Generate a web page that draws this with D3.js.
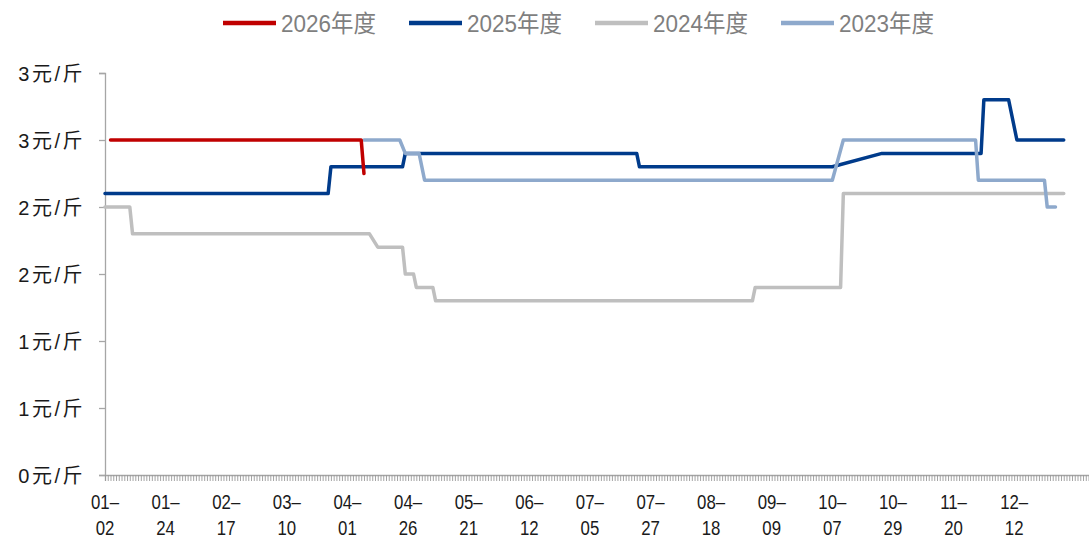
<!DOCTYPE html>
<html>
<head>
<meta charset="utf-8">
<script src="https://cdn.jsdelivr.net/npm/d3@7"></script>
<style>
  html, body { margin: 0; padding: 0; background: #ffffff; }
  svg { display: block; }
</style>
</head>
<body>
<svg id="chart" width="1089" height="539"></svg>
<script>
// ---------------- data ----------------
// x axis: daily categories (day index), a label every 22 categories
const xLabels = ["01-02","01-24","02-17","03-10","04-01","04-26","05-21","06-12",
                 "07-05","07-27","08-18","09-09","10-07","10-29","11-20","12-12"];
const labelEvery = 22;
const nCategories = 359;

const yTicks = [0, 0.5, 1, 1.5, 2, 2.5, 3];
const yTickLabels = ["0元/斤","1元/斤","1元/斤","2元/斤","2元/斤","3元/斤","3元/斤"];

const seriesNames = ["2026年度","2025年度","2024年度","2023年度"];
const seriesColors = ["#C00000","#003B8B","#BFBFBF","#8EA9CC"];

// price change points: [day index, price 元/斤]
const s2026 = [[2,2.5],[93,2.5],[94,2.25]];
const s2025 = [[0,2.1],[81,2.1],[82,2.3],[108,2.3],[109,2.4],[193,2.4],[194,2.3],
               [264,2.3],[282,2.4],[318,2.4],[319,2.8],[328,2.8],[331,2.5],[348,2.5]];
const s2024 = [[0,2.0],[9,2.0],[10,1.8],[96,1.8],[99,1.7],[108,1.7],[109,1.5],[112,1.5],
               [113,1.4],[119,1.4],[120,1.3],[235,1.3],[236,1.4],[267,1.4],[268,2.1],[348,2.1]];
const s2023 = [[94,2.5],[107,2.5],[109,2.4],[114,2.4],[116,2.2],[264,2.2],[268,2.5],
               [316,2.5],[317,2.2],[341,2.2],[342,2.0],[345,2.0]];

// ---------------- chart ----------------
const svg = d3.select("#chart");
const plotLeft = 105, plotTop = 73, plotBottom = 475;
const step = 2.755;

const x = d3.scaleLinear().domain([0, nCategories - 1]).range([plotLeft, plotLeft + (nCategories - 1) * step]);
const y = d3.scaleLinear().domain([0, 3]).range([plotBottom, plotTop]);

const axisColor = "#A6A6A6";

// y axis
const yAxis = svg.append("g").attr("transform", `translate(${plotLeft},0)`)
  .call(d3.axisLeft(y).tickValues(yTicks).tickSize(6).tickFormat((d, i) => yTickLabels[i]));
yAxis.select(".domain").attr("stroke", axisColor).attr("stroke-width", 1.3);
yAxis.selectAll(".tick line").attr("stroke", axisColor).attr("stroke-width", 1.3);
yAxis.selectAll(".tick text")
  .attr("x", -20)
  .attr("dy", "0.36em")
  .attr("fill", "#1a1a1a")
  .style("font-family", "'Liberation Sans', 'Noto Sans CJK SC', sans-serif")
  .style("font-size", "20px")
  .style("letter-spacing", "2.5px");

// x axis (category ticks)
const xAxis = svg.append("g").attr("transform", `translate(0,${plotBottom})`)
  .call(d3.axisBottom(x).tickValues(d3.range(nCategories)).tickSize(6).tickFormat(""));
xAxis.select(".domain").attr("stroke", axisColor).attr("stroke-width", 1.3);
xAxis.selectAll(".tick line").attr("stroke", "#9a9a9a").attr("stroke-width", 0.9);

// x labels (two lines)
const labelG = svg.append("g");
xLabels.forEach((lab, k) => {
  const cx = x(k * labelEvery);
  const parts = lab.split("-");
  const t = labelG.append("g").attr("transform", `translate(${cx},0) scale(0.82,1)`);
  t.append("text").attr("x", 0).attr("y", 509).attr("text-anchor", "middle")
    .style("font-family", "'Liberation Sans', sans-serif").style("font-size", "20.5px")
    .attr("fill", "#1a1a1a").text(parts[0] + "–");
  t.append("text").attr("x", 0).attr("y", 535).attr("text-anchor", "middle")
    .style("font-family", "'Liberation Sans', sans-serif").style("font-size", "20.5px")
    .attr("fill", "#1a1a1a").text(parts[1]);
});

// lines
const line = d3.line().x(d => x(d[0])).y(d => y(d[1]));
const drawOrder = [[s2024, 2], [s2025, 1], [s2023, 3], [s2026, 0]];
drawOrder.forEach(([data, ci]) => {
  svg.append("path").datum(data)
    .attr("d", line)
    .attr("fill", "none")
    .attr("stroke", seriesColors[ci])
    .attr("stroke-width", 3.5)
    .attr("stroke-linejoin", "round")
    .attr("stroke-linecap", "round");
});

// legend
const legend = svg.append("g");
seriesNames.forEach((name, i) => {
  const lx = 223 + i * 186;
  legend.append("line").attr("x1", lx).attr("x2", lx + 53).attr("y1", 23).attr("y2", 23)
    .attr("stroke", seriesColors[i]).attr("stroke-width", 4.5);
  legend.append("text").attr("x", lx + 58).attr("y", 32)
    .style("font-family", "'Liberation Sans', 'Noto Sans CJK SC', sans-serif")
    .style("font-size", "23.5px")
    .attr("fill", "#7F7F7F")
    .attr("textLength", 95).attr("lengthAdjust", "spacingAndGlyphs")
    .text(name);
});
</script>
</body>
</html>
